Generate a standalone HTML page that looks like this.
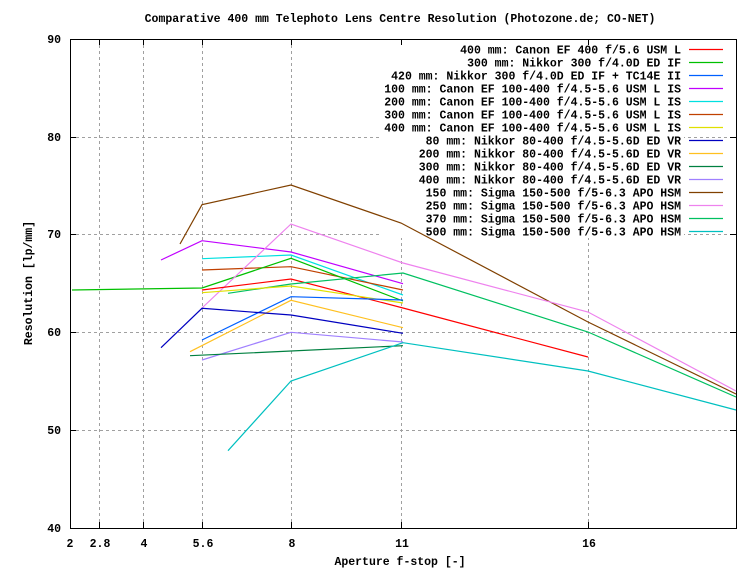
<!DOCTYPE html>
<html><head><style>body{margin:0;background:#fff}svg text{font-family:"Liberation Mono",monospace;font-weight:bold;font-size:11.5px;fill:#000}</style></head>
<body>
<svg width="750" height="570" xmlns="http://www.w3.org/2000/svg">
<rect width="750" height="570" fill="#fff"/>
<g stroke="#a0a0a0" stroke-dasharray="3,3" stroke-width="1">
<line x1="99.5" y1="39" x2="99.5" y2="528"/><line x1="143.5" y1="39" x2="143.5" y2="528"/>
<line x1="202.5" y1="39" x2="202.5" y2="528"/><line x1="291.5" y1="39" x2="291.5" y2="528"/>
<line x1="401.5" y1="39" x2="401.5" y2="528"/><line x1="588.5" y1="39" x2="588.5" y2="528"/>
<line x1="70" y1="430.5" x2="736" y2="430.5"/><line x1="70" y1="332.5" x2="736" y2="332.5"/>
<line x1="70" y1="234.5" x2="736" y2="234.5"/><line x1="70" y1="137.5" x2="736" y2="137.5"/>
</g>
<g fill="#fff"><rect x="380" y="42" width="304" height="196"/></g>
<g stroke="#000" stroke-width="1">
<rect x="70.5" y="39.5" width="666" height="489" fill="none"/>
<line x1="70" y1="430.5" x2="76" y2="430.5"/><line x1="70" y1="332.5" x2="76" y2="332.5"/><line x1="70" y1="234.5" x2="76" y2="234.5"/><line x1="70" y1="137.5" x2="76" y2="137.5"/>
<line x1="736" y1="430.5" x2="730" y2="430.5"/><line x1="736" y1="332.5" x2="730" y2="332.5"/><line x1="736" y1="234.5" x2="730" y2="234.5"/><line x1="736" y1="137.5" x2="730" y2="137.5"/>
<line x1="99.5" y1="528" x2="99.5" y2="522"/><line x1="143.5" y1="528" x2="143.5" y2="522"/><line x1="202.5" y1="528" x2="202.5" y2="522"/><line x1="291.5" y1="528" x2="291.5" y2="522"/><line x1="401.5" y1="528" x2="401.5" y2="522"/><line x1="588.5" y1="528" x2="588.5" y2="522"/>
<line x1="99.5" y1="39" x2="99.5" y2="45"/><line x1="143.5" y1="39" x2="143.5" y2="45"/><line x1="202.5" y1="39" x2="202.5" y2="45"/><line x1="291.5" y1="39" x2="291.5" y2="45"/><line x1="401.5" y1="39" x2="401.5" y2="45"/><line x1="588.5" y1="39" x2="588.5" y2="45"/>
</g>
<g text-anchor="end">
<text x="61" y="532">40</text><text x="61" y="434">50</text><text x="61" y="336">60</text><text x="61" y="238">70</text><text x="61" y="141">80</text><text x="61" y="43">90</text>
</g>
<g text-anchor="middle">
<text x="70" y="547">2</text><text x="100" y="547">2.8</text><text x="144" y="547">4</text><text x="203" y="547">5.6</text><text x="292" y="547">8</text><text x="402" y="547">11</text><text x="589" y="547">16</text>
<text x="400" y="22">Comparative 400 mm Telephoto Lens Centre Resolution (Photozone.de; CO-NET)</text>
<text x="400" y="565">Aperture f-stop [-]</text>
<text transform="translate(32,283) rotate(-90)">Resolution [lp/mm]</text>
</g>
<g fill="none" stroke-width="1.2">
<polyline stroke="#804000" points="180,244 202,204.7 291,185 401,223 588,322 736,394"/>
<polyline stroke="#c000ff" points="161,260 202,240.7 291,252 403,283.7"/>
<polyline stroke="#00e0e0" points="202,258.7 291,255 403,295"/>
<polyline stroke="#c04000" points="202,270 291,266.7 403,290"/>
<polyline stroke="#00c000" points="72,290 202,288 291,258.3 403,301"/>
<polyline stroke="#ee82ee" points="202,308 291,224 403,263 588,312 736,391"/>
<polyline stroke="#ff0000" points="202,290 291,279 403,308 588,357"/>
<polyline stroke="#00c060" points="228,293.3 291,284 403,273 588,332 736,397"/>
<polyline stroke="#e0e000" points="202,292.7 291,286 403,303"/>
<polyline stroke="#0060ff" points="202,340 291,296.7 403,300"/>
<polyline stroke="#ffc020" points="190,351.7 291,300.3 403,327.7"/>
<polyline stroke="#0000c0" points="161,347.7 202,308.3 291,315 403,333.3"/>
<polyline stroke="#a080ff" points="202,360 291,332.3 403,342"/>
<polyline stroke="#008040" points="190,355.7 291,351 403,345.7"/>
<polyline stroke="#00c0c0" points="228,450.7 291,381 403,342.7 588,371 736,410"/>
</g>
<g text-anchor="end">
<text x="681" y="53.5">400 mm: Canon EF 400 f/5.6 USM L</text>
<text x="681" y="66.5">300 mm: Nikkor 300 f/4.0D ED IF</text>
<text x="681" y="79.5">420 mm: Nikkor 300 f/4.0D ED IF + TC14E II</text>
<text x="681" y="92.5">100 mm: Canon EF 100-400 f/4.5-5.6 USM L IS</text>
<text x="681" y="105.5">200 mm: Canon EF 100-400 f/4.5-5.6 USM L IS</text>
<text x="681" y="118.5">300 mm: Canon EF 100-400 f/4.5-5.6 USM L IS</text>
<text x="681" y="131.5">400 mm: Canon EF 100-400 f/4.5-5.6 USM L IS</text>
<text x="681" y="144.5">80 mm: Nikkor 80-400 f/4.5-5.6D ED VR</text>
<text x="681" y="157.5">200 mm: Nikkor 80-400 f/4.5-5.6D ED VR</text>
<text x="681" y="170.5">300 mm: Nikkor 80-400 f/4.5-5.6D ED VR</text>
<text x="681" y="183.5">400 mm: Nikkor 80-400 f/4.5-5.6D ED VR</text>
<text x="681" y="196.5">150 mm: Sigma 150-500 f/5-6.3 APO HSM</text>
<text x="681" y="209.5">250 mm: Sigma 150-500 f/5-6.3 APO HSM</text>
<text x="681" y="222.5">370 mm: Sigma 150-500 f/5-6.3 APO HSM</text>
<text x="681" y="235.5">500 mm: Sigma 150-500 f/5-6.3 APO HSM</text>
</g>
<g stroke-width="1.2">
<line x1="689" x2="723" y1="49.5" y2="49.5" stroke="#ff0000"/>
<line x1="689" x2="723" y1="62.5" y2="62.5" stroke="#00c000"/>
<line x1="689" x2="723" y1="75.5" y2="75.5" stroke="#0060ff"/>
<line x1="689" x2="723" y1="88.5" y2="88.5" stroke="#c000ff"/>
<line x1="689" x2="723" y1="101.5" y2="101.5" stroke="#00e0e0"/>
<line x1="689" x2="723" y1="114.5" y2="114.5" stroke="#c04000"/>
<line x1="689" x2="723" y1="127.5" y2="127.5" stroke="#e0e000"/>
<line x1="689" x2="723" y1="140.5" y2="140.5" stroke="#0000c0"/>
<line x1="689" x2="723" y1="153.5" y2="153.5" stroke="#ffc020"/>
<line x1="689" x2="723" y1="166.5" y2="166.5" stroke="#008040"/>
<line x1="689" x2="723" y1="179.5" y2="179.5" stroke="#a080ff"/>
<line x1="689" x2="723" y1="192.5" y2="192.5" stroke="#804000"/>
<line x1="689" x2="723" y1="205.5" y2="205.5" stroke="#ee82ee"/>
<line x1="689" x2="723" y1="218.5" y2="218.5" stroke="#00c060"/>
<line x1="689" x2="723" y1="231.5" y2="231.5" stroke="#00c0c0"/>
</g>
</svg>
</body></html>
